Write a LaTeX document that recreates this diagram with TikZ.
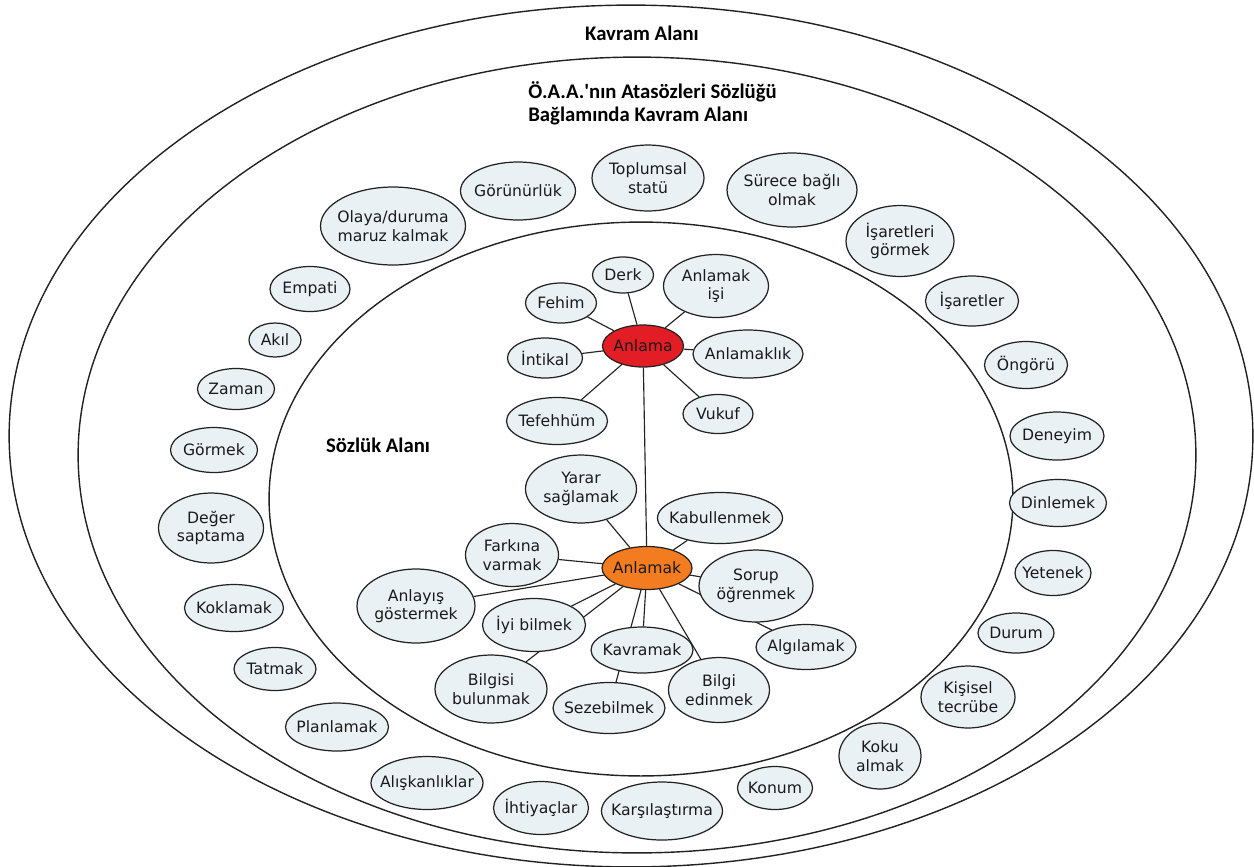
\documentclass[tikz,border=0pt]{standalone}
\usepackage{fontspec}
\setmainfont{DejaVu Sans}
\newfontfamily\titlefont{Carlito}
\usepackage{xcolor}
\usepackage{tikz}
\usetikzlibrary{shapes.geometric, backgrounds}
\definecolor{kline}{HTML}{222222}
\definecolor{kfill}{HTML}{EAF1F4}
\definecolor{kred}{HTML}{E31D25}
\definecolor{korange}{HTML}{F47C20}
\definecolor{ktext}{HTML}{1A1A1A}
\tikzset{
  term/.style={ellipse, draw=kline, fill=kfill, text=ktext, line width=0.7pt,
               inner xsep=-6pt, inner ysep=0pt, align=center,
               font=\fontsize{8.9}{10.5}\selectfont},
  redhub/.style={fill=kred},
  orangehub/.style={fill=korange},
  link/.style={draw=kline, line width=0.65pt},
  zone/.style={draw=kline, line width=0.8pt},
  title/.style={font=\titlefont\bfseries\fontsize{11.8}{13.3}\selectfont, text=black, inner sep=0pt}
}

\begin{document}
\begin{tikzpicture}[x=0.02cm, y=-0.02cm]
  \useasboundingbox (0,0) rectangle (1254,866);

  \node[title] (kavram) at (642,33) {Kavram Alanı};
  \node[title, anchor=west, align=left] (oaa) at (528,103) {Ö.A.A.\textquotesingle nın Atasözleri Sözlüğü\\Bağlamında Kavram Alanı};
  \node[title] (sozluk) at (378,445) {Sözlük Alanı};

  \node[term, minimum width=2.30cm, minimum height=1.16cm] (gorunurluk) at (518,191) {Görünürlük};
  \node[term, minimum width=2.24cm, minimum height=1.32cm] (toplumsal) at (648,178) {Toplumsal\\statü};
  \node[term, minimum width=2.60cm, minimum height=1.48cm] (surece) at (792,190) {Sürece bağlı\\olmak};
  \node[term, minimum width=2.16cm, minimum height=1.42cm] (isgormek) at (900,241) {İşaretleri\\görmek};
  \node[term, minimum width=1.86cm, minimum height=1.00cm] (isaretler) at (972,301) {İşaretler};
  \node[term, minimum width=1.66cm, minimum height=0.94cm] (ongoru) at (1026,365) {Öngörü};
  \node[term, minimum width=1.88cm, minimum height=0.96cm] (deneyim) at (1057,436) {Deneyim};
  \node[term, minimum width=1.94cm, minimum height=0.94cm] (dinlemek) at (1058,503) {Dinlemek};
  \node[term, minimum width=1.52cm, minimum height=0.90cm] (yetenek) at (1053,573) {Yetenek};
  \node[term, minimum width=1.52cm, minimum height=0.80cm] (durum) at (1016,633) {Durum};
  \node[term, minimum width=1.88cm, minimum height=1.24cm] (kisisel) at (968,697) {Kişisel\\tecrübe};
  \node[term, minimum width=1.64cm, minimum height=1.32cm] (koku) at (880,756) {Koku\\almak};
  \node[term, minimum width=1.50cm, minimum height=0.86cm] (konum) at (775,788) {Konum};
  \node[term, minimum width=2.42cm, minimum height=1.16cm] (karsilastirma) at (662,811) {Karşılaştırma};
  \node[term, minimum width=1.90cm, minimum height=1.06cm] (ihtiyaclar) at (541,808) {İhtiyaçlar};
  \node[term, minimum width=2.24cm, minimum height=1.06cm] (aliskanliklar) at (427,783) {Alışkanlıklar};
  \node[term, minimum width=2.06cm, minimum height=0.96cm] (planlamak) at (337,727) {Planlamak};
  \node[term, minimum width=1.64cm, minimum height=0.86cm] (tatmak) at (275,669) {Tatmak};
  \node[term, minimum width=1.98cm, minimum height=0.94cm] (koklamak) at (234,608) {Koklamak};
  \node[term, minimum width=2.10cm, minimum height=1.40cm] (deger) at (211,528) {Değer\\saptama};
  \node[term, minimum width=1.74cm, minimum height=0.90cm] (gormek) at (214,450) {Görmek};
  \node[term, minimum width=1.54cm, minimum height=0.82cm] (zaman) at (236,389) {Zaman};
  \node[term, minimum width=1.04cm, minimum height=0.68cm] (akil) at (275,340) {Akıl};
  \node[term, minimum width=1.60cm, minimum height=0.90cm] (empati) at (310,289) {Empati};
  \node[term, minimum width=2.90cm, minimum height=1.56cm] (olaya) at (393,226) {Olaya/duruma\\maruz kalmak};

  \node[term, redhub, minimum width=1.62cm, minimum height=0.84cm] (anlama) at (643,346) {Anlama};
  \node[term, minimum width=1.22cm, minimum height=0.72cm] (derk) at (623,275) {Derk};
  \node[term, minimum width=2.10cm, minimum height=1.26cm] (anlamakisi) at (716,286) {Anlamak\\işi};
  \node[term, minimum width=1.42cm, minimum height=0.80cm] (fehim) at (561,303) {Fehim};
  \node[term, minimum width=1.50cm, minimum height=0.80cm] (intikal) at (545,358) {İntikal};
  \node[term, minimum width=2.20cm, minimum height=0.96cm] (anlamaklik) at (748,354) {Anlamaklık};
  \node[term, minimum width=2.02cm, minimum height=0.94cm] (tefehhum) at (557,421) {Tefehhüm};
  \node[term, minimum width=1.40cm, minimum height=0.78cm] (vukuf) at (718,414) {Vukuf};

  \node[term, orangehub, minimum width=1.80cm, minimum height=0.86cm] (anlamak) at (647,568) {Anlamak};
  \node[term, minimum width=2.22cm, minimum height=1.36cm] (yarar) at (581,489) {Yarar\\sağlamak};
  \node[term, minimum width=2.50cm, minimum height=1.02cm] (kabullenmek) at (720,518) {Kabullenmek};
  \node[term, minimum width=1.86cm, minimum height=1.26cm] (farkina) at (512,555) {Farkına\\varmak};
  \node[term, minimum width=2.28cm, minimum height=1.44cm] (sorup) at (756,586) {Sorup\\öğrenmek};
  \node[term, minimum width=2.36cm, minimum height=1.48cm] (anlayis) at (416,606) {Anlayış\\göstermek};
  \node[term, minimum width=2.06cm, minimum height=1.06cm] (iyibilmek) at (534,625) {İyi bilmek};
  \node[term, minimum width=2.00cm, minimum height=0.90cm] (algilamak) at (806,647) {Algılamak};
  \node[term, minimum width=2.04cm, minimum height=0.92cm] (kavramak) at (642,650) {Kavramak};
  \node[term, minimum width=2.24cm, minimum height=1.36cm] (bilgisi) at (491,689) {Bilgisi\\bulunmak};
  \node[term, minimum width=2.24cm, minimum height=1.02cm] (sezebilmek) at (609,708) {Sezebilmek};
  \node[term, minimum width=2.02cm, minimum height=1.30cm] (bilgiedinmek) at (719,690) {Bilgi\\edinmek};

  \begin{scope}[on background layer]
    \draw[zone] (631,436) ellipse [x radius=12.44cm, y radius=8.62cm];
    \draw[zone] (637,455) ellipse [x radius=11.18cm, y radius=7.96cm];
    \draw[zone] (641,499) ellipse [x radius=7.44cm, y radius=5.54cm];

    \draw[link] (anlama) -- (derk);
    \draw[link] (anlama) -- (anlamakisi);
    \draw[link] (anlama) -- (fehim);
    \draw[link] (anlama) -- (intikal);
    \draw[link] (anlama) -- (anlamaklik);
    \draw[link] (anlama) -- (tefehhum);
    \draw[link] (anlama) -- (vukuf);
    \draw[link] (anlama) -- (anlamak);

    \draw[link] (anlamak) -- (yarar);
    \draw[link] (anlamak) -- (kabullenmek);
    \draw[link] (anlamak) -- (farkina);
    \draw[link] (anlamak) -- (sorup);
    \draw[link] (anlamak) -- (algilamak);
    \draw[link] (anlamak) -- (anlayis);
    \draw[link] (anlamak) -- (iyibilmek);
    \draw[link] (anlamak) -- (bilgisi);
    \draw[link] (anlamak) -- (kavramak);
    \draw[link] (anlamak) -- (sezebilmek);
    \draw[link] (anlamak) -- (bilgiedinmek);
  \end{scope}
\end{tikzpicture}
\end{document}
